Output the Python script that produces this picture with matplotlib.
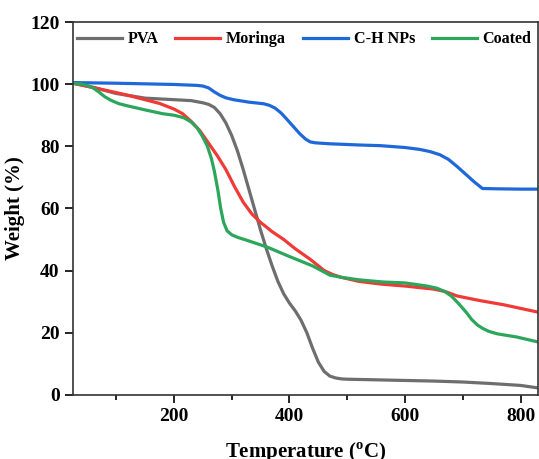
import numpy as np
import matplotlib.pyplot as plt
from matplotlib import ticker

plt.rcParams['font.family'] = ['Liberation Serif', 'DejaVu Serif']
plt.rcParams['font.weight'] = 'bold'
plt.rcParams['mathtext.fontset'] = 'custom'
plt.rcParams['mathtext.rm'] = 'Liberation Serif:bold'
plt.rcParams['mathtext.bf'] = 'Liberation Serif:bold'

pva_t = [25, 60, 100, 150, 200, 230, 250, 260, 270, 280, 290, 300, 310, 320, 330, 340, 350,
         360, 370, 380, 390, 400, 410, 420, 430, 440, 450, 460, 470, 480, 490, 500,
         550, 600, 650, 700, 750, 800, 830]
pva_w = [100.3, 99, 97, 95.5, 95, 94.7, 94, 93.5, 92.5, 90.5, 87.5, 83.5, 78.5, 72.5, 66, 59.5, 53,
         47, 41.5, 36.5, 32.5, 29.5, 27, 24, 20, 15, 10.5, 7.5, 6, 5.4, 5.1, 5,
         4.8, 4.6, 4.4, 4.1, 3.6, 3, 2.2]

mor_t = [25, 50, 75, 100, 125, 150, 175, 200, 215, 230, 245, 260, 275, 290, 305, 320, 335,
         350, 370, 390, 410, 436, 460, 475, 490, 520, 560, 600, 650, 670, 690, 730, 770, 800, 830]
mor_w = [100.3, 99.3, 98.3, 97.3, 96.2, 95, 93.8, 92, 90.5, 88, 85, 81, 77, 72.5, 67, 62, 58.2,
         55.5, 52.5, 50, 47, 43.6, 40, 38.7, 37.8, 36.5, 35.6, 35, 34, 33.2, 31.8, 30.3, 29, 27.8, 26.6]

chn_t = [25, 100, 150, 200, 240, 250, 260, 270, 280, 290, 303, 330, 355, 365, 375, 385, 395,
         407, 418, 428, 436, 445, 470, 522, 557, 600, 625, 643, 660, 675, 690, 705, 720, 734,
         760, 800, 830]
chn_w = [100.5, 100.3, 100.1, 99.9, 99.6, 99.4, 98.8, 97.5, 96.4, 95.6, 95, 94.2, 93.7, 93.2, 92.3, 90.8, 88.8,
         86.3, 84, 82.3, 81.4, 81.1, 80.8, 80.4, 80.2, 79.6, 79, 78.3, 77.3, 75.8, 73.5, 71, 68.5, 66.4,
         66.3, 66.2, 66.2]

coa_t = [25, 40, 50, 60, 70, 80, 91, 105, 120, 148, 180, 200, 217, 230, 240, 250, 258, 265,
         270, 276, 281, 286, 292, 300, 310, 330, 362, 400, 441, 470, 490, 520, 562, 600, 638,
         655, 668, 680, 692, 700, 707, 715, 725, 734, 745, 760, 793, 830]
coa_w = [100.3, 100, 99.6, 98.8, 97.5, 96, 94.8, 93.7, 93, 91.8, 90.5, 90, 89.2, 87.8, 86, 83, 80, 76,
         72, 66, 60, 55.5, 52.8, 51.5, 50.7, 49.5, 47.5, 44.5, 41.4, 38.5, 37.8, 37, 36.3, 36, 35,
         34.3, 33.3, 31.8, 29.5, 27.8, 26.3, 24.3, 22.5, 21.4, 20.4, 19.6, 18.6, 17]

labels = ['PVA', 'Moringa', 'C-H NPs', 'Coated']
colors = ['#6e6e6e', '#ef3a37', '#1f68d9', '#2ca65a']

fig = plt.figure(figsize=(5.39, 4.59), dpi=100)
ax = fig.add_axes([0.135, 0.14, 0.863, 0.812])

for t, w, lab, c in zip([pva_t, mor_t, chn_t, coa_t], [pva_w, mor_w, chn_w, coa_w], labels, colors):
    ax.plot(t, w, color=c, lw=2.3, label=lab, solid_joinstyle='round')

ax.set_xlim(25, 830)
ax.set_ylim(0, 120)
ax.xaxis.set_major_locator(ticker.MultipleLocator(200))
ax.xaxis.set_minor_locator(ticker.MultipleLocator(100))
ax.yaxis.set_major_locator(ticker.MultipleLocator(20))
ax.tick_params(which='major', direction='out', length=6, width=1.2, labelsize=14)
ax.tick_params(which='minor', direction='out', length=3.5, width=1.2)
for s in ax.spines.values():
    s.set_linewidth(1.2)
    s.set_color('#333333')

ax.set_xlabel(r'Temperature ($^\mathrm{o}$C)', fontsize=15, fontweight='bold', labelpad=11)
ax.set_ylabel('Weight (%)', fontsize=15, fontweight='bold')
ax.yaxis.set_label_coords(-0.103, 0.5)

ax.legend(loc='upper left', ncol=4, frameon=False, handlelength=2.8,
          columnspacing=1.05, handletextpad=0.35, borderaxespad=0.3,
          bbox_to_anchor=(-0.016, 1.005), prop={'weight': 'bold', 'size': 11.6})

fig.savefig('out.png', dpi=100)
